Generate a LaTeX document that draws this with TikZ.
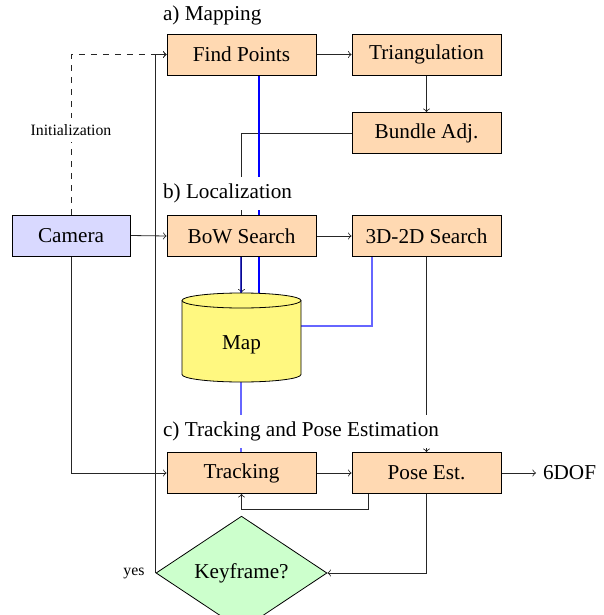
\documentclass[tikz,border=0pt]{standalone}
\usepackage{fontspec}
\setmainfont{Liberation Serif}
\usetikzlibrary{shapes.geometric,backgrounds,calc}
\begin{document}
\begin{tikzpicture}[x=0.5pt,y=-0.5pt,
  every node/.style={font=\fontsize{10.6pt}{12.7pt}\selectfont},
  stepbox/.style={draw, fill=orange!30, minimum width=74.5pt, minimum height=20.5pt, inner sep=0pt},
  cambox/.style={draw, fill=blue!15, minimum width=59pt, minimum height=20.5pt, inner sep=0pt},
  decision/.style={draw, diamond, fill=green!20, minimum width=85.5pt, minimum height=42pt, inner sep=0pt},
  secthead/.style={fill=white, anchor=west},
  smalltext/.style={font=\fontsize{7.9pt}{9.5pt}\selectfont},
  conn/.style={->, black!85},
  bluelink/.style={blue, line width=0.7pt},
  mapline/.style={blue!60, line width=0.7pt},
  mapthick/.style={blue!60, line width=0.8pt}]
\useasboundingbox (0,0) rectangle (604,615);

% nodes
\node[stepbox] (findpoints) at (241.5,54.5) {Find Points};
\node[stepbox] (triang) at (426.5,54.5) {Triangulation};
\node[stepbox] (bundle) at (426.5,133) {Bundle Adj.};
\node[cambox] (camera) at (71,235.5) {Camera};
\node[stepbox] (bow) at (241.5,236) {BoW Search};
\node[stepbox] (search3d) at (426.5,236) {3D-2D Search};
\node[stepbox] (tracking) at (241.5,473) {Tracking};
\node[stepbox] (pose) at (426.5,473) {Pose Est.};
\node[decision] (keyframe) at (241.5,573) {Keyframe?};
\node[anchor=west] (dof) at (536,473) {6DOF};

% map cylinder
\path[draw, fill=yellow!50] (182,300.5) -- (182,374.5)
  arc[start angle=180, end angle=360, x radius=29.75pt, y radius=3.75pt]
  -- (301,300.5)
  arc[start angle=0, end angle=180, x radius=29.75pt, y radius=3.75pt] -- cycle;
\draw (182,300.5) arc[start angle=180, end angle=360, x radius=29.75pt, y radius=3.75pt];
\node[minimum width=59.5pt, minimum height=44.5pt, inner sep=0pt, text height=11.7pt, text depth=0pt] (map) at (241.5,337.5) {Map};

% section headings and labels
\node[secthead] (heada) at (156,15) {a) Mapping};
\node[secthead] (headb) at (156,193.5) {b) Localization};
\node[secthead] (headc) at (156,431.5) {c) Tracking and Pose Estimation};
\node[smalltext, fill=white] (init) at (71,130) {Initialization};
\node[smalltext, anchor=east, xshift=-2pt] (yes) at (keyframe.west) {yes};

\begin{pgfonlayer}{background}
\draw[conn] (findpoints.east) -- (triang.west);
\draw[conn] (triang.south) -- (bundle.north);
\draw[conn] (bundle.west) -| (map.north);
\draw[bluelink] ([xshift=8.75pt]findpoints.south) -- ([xshift=8.75pt]map.north);
\draw[blue!70!black, line width=0.7pt, opacity=0.75] ([xshift=-0.25pt]bow.south) -- ([xshift=-0.25pt]map.north);
\draw[conn] (camera.east) -- (bow.west);
\draw[conn] (bow.east) -- (search3d.west);
\draw[mapthick] ([xshift=-27.25pt]search3d.south) |- ($(map.east)+(0,-11.5)$);
\draw[conn] (search3d.south) -- (pose.north);
\draw[mapline] ([xshift=-0.25pt]map.south) -- ([xshift=-0.25pt]tracking.north);
\draw[conn] (tracking.east) -- (pose.west);
\draw[conn] (pose.east) -- (dof.west);
\draw[conn] ([xshift=-29.25pt]pose.south) -- ++(0,15) -| (tracking.south);
\draw[conn] (pose.south) |- (keyframe.east);
\draw[conn] (keyframe.west) |- (findpoints.west);
\draw[conn, dashed] (camera.north) |- (findpoints.west);
\draw[conn] (camera.south) |- (tracking.west);
\end{pgfonlayer}
\end{tikzpicture}
\end{document}
